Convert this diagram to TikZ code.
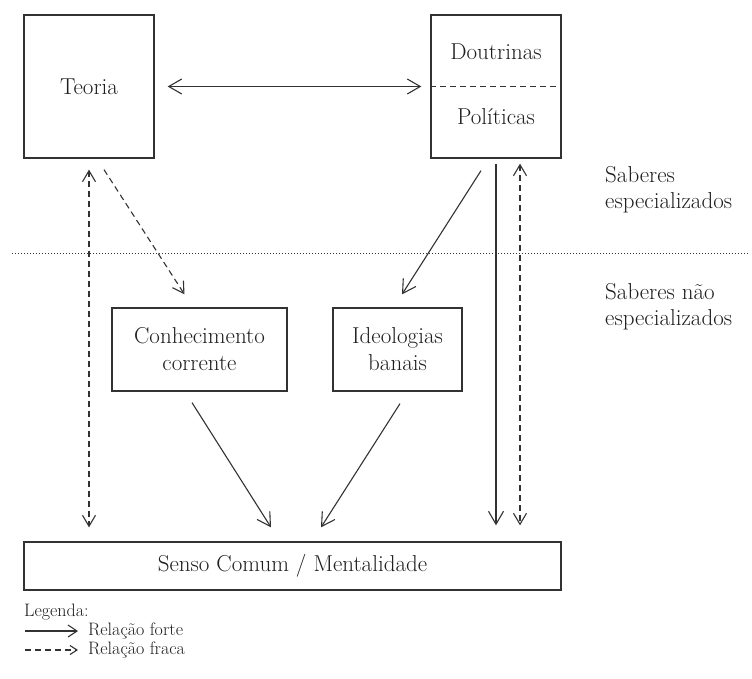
\documentclass[tikz,border=0pt]{standalone}
\usepackage{tikz}
\usetikzlibrary{arrows.meta, positioning, calc}
\definecolor{linegray}{RGB}{50,50,50}
\definecolor{textgray}{RGB}{30,30,30}

\begin{document}
\begin{tikzpicture}[x=1pt, y=-1pt,
    box/.style={draw=linegray, line width=1.3pt, rectangle, text=textgray, align=center, inner sep=0pt, font=\fontsize{23}{27}\selectfont},
    strong/.style={draw=linegray, line width=1.1pt, -{Straight Barb[length=13pt, width=15pt]}},
    weak/.style={draw=linegray, line width=1.1pt, dash pattern=on 6pt off 4pt, -{Straight Barb[length=11pt, width=13pt]}},
    lbl/.style={text=textgray, align=left, inner sep=0pt, font=\fontsize{23}{26}\selectfont},
    leglbl/.style={text=textgray, anchor=west, inner sep=0pt, font=\fontsize{18}{21}\selectfont}]
  \useasboundingbox (0,0) rectangle (752,679);

  % Teoria
  \node[box, minimum width=130pt, minimum height=143pt] (teoria) at (89,86.5) {Teoria};

  % Doutrinas / Politicas
  \node[box, minimum width=130pt, minimum height=143pt] (pol) at (496,86.5) {};
  \node[lbl] (dout) at (496,52) {Doutrinas};
  \node[lbl] (polit) at (496,117) {Políticas};
  \draw[linegray, line width=1.1pt, dash pattern=on 6pt off 4pt] (pol.west) -- (pol.east);

  % Conhecimento corrente, Ideologias banais
  \node[box, minimum width=175pt, minimum height=83pt] (conhec) at (199.5,349.5) {Conhecimento\\corrente};
  \node[box, minimum width=129pt, minimum height=83pt] (ideol) at (397.5,349.5) {Ideologias\\banais};

  % Senso Comum
  \node[box, minimum width=537pt, minimum height=48pt] (senso) at (292.5,566) {Senso Comum / Mentalidade};

  % levels
  \coordinate (sepL) at (12,253);
  \coordinate (sepR) at (748,253);
  \draw[linegray, line width=1pt, dash pattern=on 1pt off 2pt] (sepL) -- (sepR);
  \node[lbl, anchor=west] (espec) at (605,190) {Saberes\\especializados};
  \node[lbl, anchor=west] (naoespec) at (605,307) {Saberes não\\especializados};

  % Arrows
  \draw[strong, {Straight Barb[length=13pt, width=15pt]}-{Straight Barb[length=13pt, width=15pt]}, shorten <=13pt, shorten >=9pt] (teoria.east) -- (pol.west);
  \draw[weak, {Straight Barb[length=11pt, width=13pt]}-{Straight Barb[length=11pt, width=13pt]}, shorten <=11pt, shorten >=14pt] (teoria.south) -- (teoria.south |- senso.north);
  \draw[weak] ([shift={(15,11)}]teoria.south) -- ([shift={(-15,-13)}]conhec.north);
  \draw[strong] ([shift={(-15,12)}]pol.south) -- ([shift={(4.5,-13)}]ideol.north);
  \draw[strong, shorten <=5pt, shorten >=16pt] (pol.south) -- (pol.south |- senso.north);
  \draw[weak, {Straight Barb[length=11pt, width=13pt]}-{Straight Barb[length=11pt, width=13pt]}, shorten <=5pt, shorten >=16pt] ([xshift=24pt]pol.south) -- ([xshift=24pt]pol.south |- senso.north);
  \draw[strong] ([shift={(-7.5,11)}]conhec.south) -- ([shift={(-21.5,-14)}]senso.north);
  \draw[strong] ([shift={(2.5,12)}]ideol.south) -- ([shift={(28.5,-14)}]senso.north);

  % Legenda
  \node[leglbl] (leg) at (24,612) {Legenda:};
  \coordinate (fa) at (25,631);
  \coordinate (fb) at (78,631);
  \coordinate (wa) at (25,650);
  \coordinate (wb) at (78,650);
  \draw[strong, -{Straight Barb[length=9pt, width=12pt]}] (fa) -- (fb);
  \draw[weak, -{Straight Barb[length=7pt, width=9pt]}] (wa) -- (wb);
  \node[leglbl] (forte) at (88,631) {Relação forte};
  \node[leglbl] (fraca) at (88,650) {Relação fraca};
\end{tikzpicture}
\end{document}
